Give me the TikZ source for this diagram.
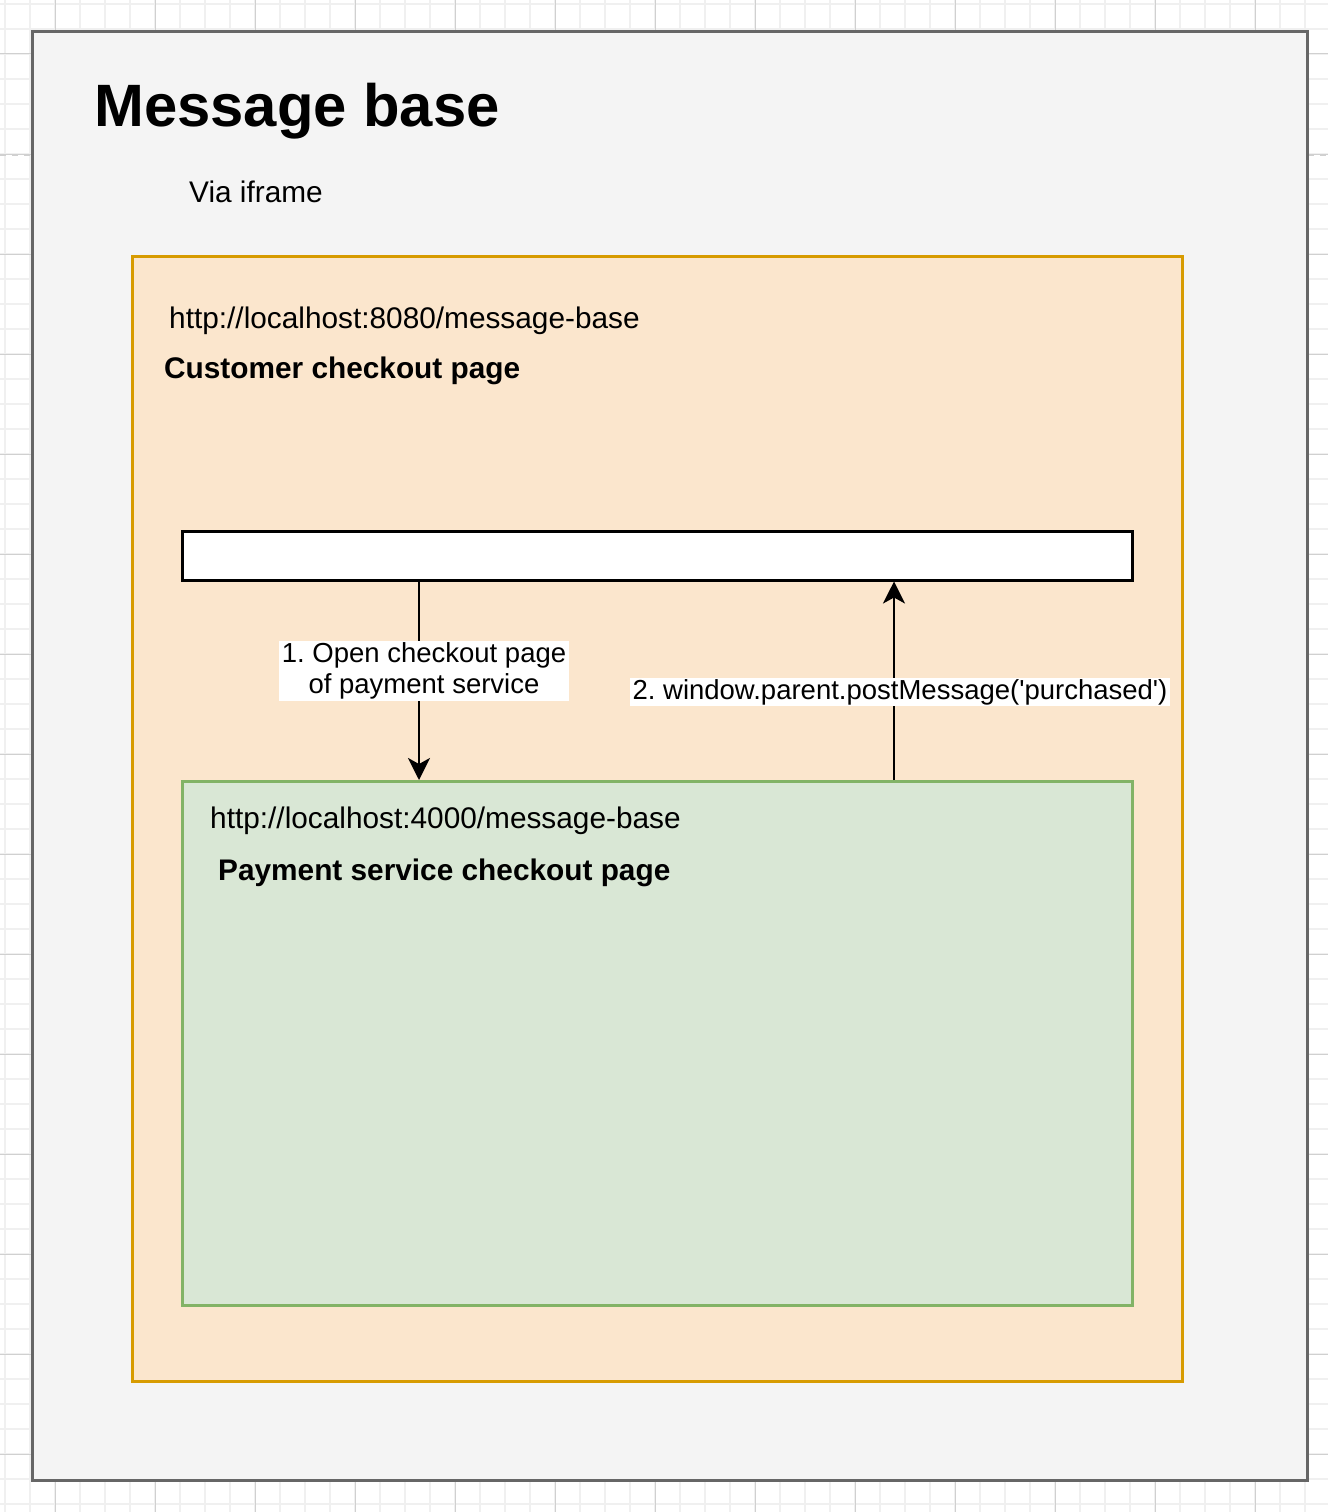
\documentclass[tikz,border=0pt]{standalone}
\usepackage{fontspec}
\setmainfont{Liberation Sans}[Ligatures=TeXOff]
\usetikzlibrary{arrows.meta,positioning}
\frenchspacing

\definecolor{framefill}{HTML}{F4F4F4}
\definecolor{frameline}{HTML}{666666}
\definecolor{outerfill}{HTML}{FBE6CD}
\definecolor{outerline}{HTML}{D79B00}
\definecolor{innerfill}{HTML}{D9E7D5}
\definecolor{innerline}{HTML}{82B366}
\definecolor{gridminor}{HTML}{F0F0F0}
\definecolor{gridmajor}{HTML}{D0D0D0}

\tikzset{
  pagebox/.style={draw=frameline, fill=framefill, line width=3pt, anchor=north west, inner sep=0},
  parentbox/.style={draw=outerline, fill=outerfill, line width=3pt, anchor=north west, inner sep=0},
  iframebox/.style={draw=innerline, fill=innerfill, line width=3pt, anchor=north west, inner sep=0},
  framebar/.style={draw=black, fill=white, line width=2.5pt, anchor=north west, inner sep=0},
  txt/.style={anchor=base west, inner sep=0, font=\fontsize{29.8}{34}\selectfont},
  boldtxt/.style={txt, font=\fontsize{29.8}{34}\selectfont\bfseries},
  msg/.style={fill=white, inner xsep=3pt, inner ysep=2pt, align=center,
    font=\fontsize{27.5}{31}\selectfont},
  arr/.style={line width=2.5pt, -{Stealth[length=22pt, width=22pt, inset=6pt]}}
}

\begin{document}
\begin{tikzpicture}[x=1pt, y=-1pt]
  \useasboundingbox (0,0) rectangle (1328,1512);

  % grid behind the page
  \foreach \gx in {5,30,...,1328}
    \draw [gridminor, line width=1.5pt] (\gx,0) -- (\gx,1512);
  \foreach \gy in {4,29,...,1512}
    \draw [gridminor, line width=1.5pt] (0,\gy) -- (1328,\gy);
  \foreach \gx in {55,155,...,1328}
    \draw [gridmajor, line width=1pt] (\gx,0) -- (\gx,1512);
  \foreach \gy in {54,154,...,1512}
    \draw [gridmajor, line width=1pt] (0,\gy) -- (1328,\gy);
  \draw [gridmajor, line width=1.5pt, dash pattern=on 6pt off 6pt] (0,155) -- (1328,155);

  % boxes
  \node [pagebox, minimum width=1275, minimum height=1449] (page) at (31,30) {};
  \node [parentbox, minimum width=1050, minimum height=1125] (parent) at (131,255) {};
  \node [framebar, minimum width=950, minimum height=49] (bar) at (181,530) {};
  \node [iframebox, minimum width=950, minimum height=524] (payment) at (181,780) {};

  % texts
  \node [anchor=base west, inner sep=0, font=\fontsize{59.8}{66}\selectfont\bfseries] (title) at (94,126) {Message base};
  \node [txt] (via) at (189,202) {Via iframe};
  \node [txt] (parenturl) at (169,328) {http://localhost:8080/message-base};
  \node [boldtxt] (parentname) at (164,378) {Customer checkout page};
  \node [txt] (iframeurl) at (210,828) {http://localhost:4000/message-base};
  \node [boldtxt] (iframename) at (218,880) {Payment service checkout page};

  % messages
  \draw [arr] ([xshift=238pt]bar.south west) -- ([xshift=238pt]payment.north west)
    node [msg, pos=0.45, xshift=5pt] (open) {1. Open checkout page\\of payment service};
  \draw [arr] ([xshift=713pt]payment.north west) -- ([xshift=713pt]bar.south west)
    node [msg, pos=0.443, xshift=6pt, inner ysep=1pt] (post) {2. window.parent.postMessage('purchased')};
\end{tikzpicture}
\end{document}
